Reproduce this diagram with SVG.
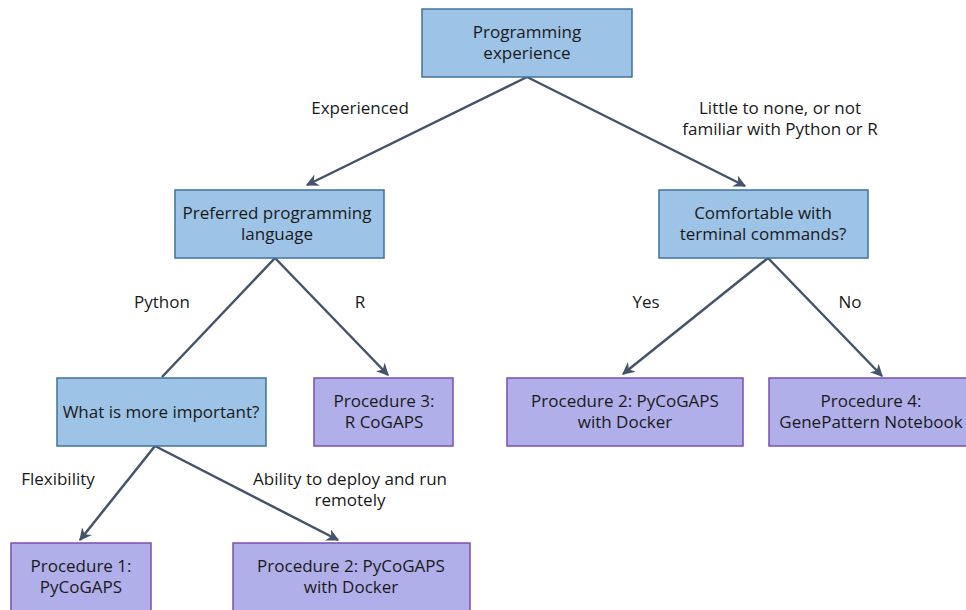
<svg xmlns="http://www.w3.org/2000/svg" width="966" height="610" viewBox="0 0 966 610">
<style>
.q{fill:#9DC3E6;stroke:#41719C;stroke-width:1.5}
.p{fill:#B1AFE9;stroke:#7B4FB0;stroke-width:1.5}
text{font-family:"Open Sans","Liberation Sans",sans-serif;font-size:17px;fill:#1a1a1a;text-anchor:middle}
.c{stroke:#44546A;stroke-width:2.5;fill:none}
</style>
<defs>
<marker id="ah" viewBox="0 0 10 10" refX="9" refY="5" markerWidth="5" markerHeight="5" orient="auto" markerUnits="strokeWidth">
<path d="M0,0 L10,5 L0,10 L3,5 Z" fill="#44546A"/>
</marker>
</defs>
<rect width="966" height="610" fill="#fff"/>
<g id="connectors">
<line class="c" x1="527" y1="77" x2="307" y2="185" marker-end="url(#ah)"/>
<line class="c" x1="527" y1="77" x2="745" y2="186" marker-end="url(#ah)"/>
<line class="c" x1="275" y1="258" x2="162" y2="377"/>
<line class="c" x1="275" y1="258" x2="388" y2="375" marker-end="url(#ah)"/>
<line class="c" x1="768" y1="258" x2="623" y2="374" marker-end="url(#ah)"/>
<line class="c" x1="768" y1="258" x2="882" y2="376" marker-end="url(#ah)"/>
<line class="c" x1="155" y1="446" x2="80" y2="540" marker-end="url(#ah)"/>
<line class="c" x1="155" y1="446" x2="338" y2="540" marker-end="url(#ah)"/>
</g>
<g id="labels">
<text x="360" y="114">Experienced</text>
<text x="780" y="114">Little to none, or not</text>
<text x="780" y="135">familiar with Python or R</text>
<text x="162" y="308">Python</text>
<text x="360" y="308">R</text>
<text x="646" y="308">Yes</text>
<text x="850" y="308">No</text>
<text x="58" y="485">Flexibility</text>
<text x="350" y="485">Ability to deploy and run</text>
<text x="350" y="506">remotely</text>
</g>
<g id="n-exp">
<rect class="q" x="422" y="9" width="210" height="68"/>
<text x="527" y="38">Programming</text>
<text x="527" y="59">experience</text>
</g>
<g id="n-lang">
<rect class="q" x="175" y="190" width="209" height="68"/>
<text x="277" y="219">Preferred programming</text>
<text x="277" y="240">language</text>
</g>
<g id="n-term">
<rect class="q" x="659" y="190" width="209" height="68"/>
<text x="763" y="219">Comfortable with</text>
<text x="763" y="240">terminal commands?</text>
</g>
<g id="n-imp">
<rect class="q" x="57" y="378" width="209" height="68"/>
<text x="161" y="418">What is more important?</text>
</g>
<g id="n-p3">
<rect class="p" x="314" y="378" width="139" height="68"/>
<text x="384" y="407">Procedure 3:</text>
<text x="384" y="428">R CoGAPS</text>
</g>
<g id="n-p2a">
<rect class="p" x="507" y="378" width="236" height="68"/>
<text x="625" y="407">Procedure 2: PyCoGAPS</text>
<text x="625" y="428">with Docker</text>
</g>
<g id="n-p4">
<rect class="p" x="769" y="378" width="200" height="68"/>
<text x="871" y="407">Procedure 4:</text>
<text x="871" y="428">GenePattern Notebook</text>
</g>
<g id="n-p1">
<rect class="p" x="11" y="543" width="140" height="70"/>
<text x="81" y="572">Procedure 1:</text>
<text x="81" y="593">PyCoGAPS</text>
</g>
<g id="n-p2b">
<rect class="p" x="233" y="543" width="237" height="70"/>
<text x="351" y="572">Procedure 2: PyCoGAPS</text>
<text x="351" y="593">with Docker</text>
</g>
</svg>
